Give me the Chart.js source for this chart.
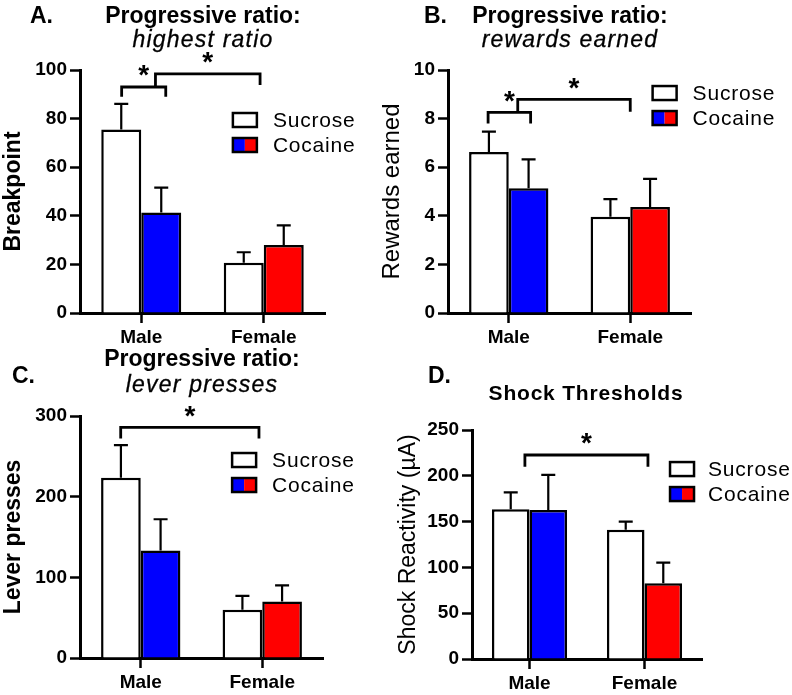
<!DOCTYPE html>
<html>
<head>
<meta charset="utf-8">
<script src="https://cdn.jsdelivr.net/npm/chart.js@4.4.1/dist/chart.umd.min.js"></script>
<style>
  body { margin: 0; background: #fff; }
  #page { position: relative; width: 792px; height: 695px; overflow: hidden; font-family: 'Liberation Sans', Arial, sans-serif; color: #000; }
  canvas { position: absolute; }
  .lbl { position: absolute; line-height: 1; white-space: nowrap; transform: translateY(-50%); }
  .ttl { position: absolute; line-height: 1; white-space: nowrap; transform: translate(-50%, -50%); }
  .b23 { font-size: 23px; font-weight: bold; }
  .i23 { font-size: 23px; font-style: italic; letter-spacing: 1.2px; -webkit-text-stroke: 0.3px #000; }
</style>
</head>
<body>
<div id="page">
  <canvas id="chartA" width="396" height="360" style="left:0;top:0"></canvas>
  <canvas id="chartB" width="416" height="360" style="left:376px;top:0"></canvas>
  <canvas id="chartC" width="396" height="355" style="left:0;top:340px"></canvas>
  <canvas id="chartD" width="416" height="355" style="left:376px;top:340px"></canvas>

  <div class="lbl b23" style="left:30px;top:15px">A.</div>
  <div class="ttl b23" style="left:203px;top:15px">Progressive ratio:</div>
  <div class="ttl i23" style="left:203px;top:39px">highest ratio</div>

  <div class="lbl b23" style="left:424px;top:15px">B.</div>
  <div class="ttl b23" style="left:570px;top:15px">Progressive ratio:</div>
  <div class="ttl i23" style="left:570px;top:39px">rewards earned</div>

  <div class="lbl b23" style="left:12px;top:375px">C.</div>
  <div class="ttl b23" style="left:202px;top:358px">Progressive ratio:</div>
  <div class="ttl i23" style="left:202px;top:384px">lever presses</div>

  <div class="lbl b23" style="left:428px;top:375px">D.</div>
  <div class="ttl" style="left:586px;top:392px;font-size:21px;font-weight:bold;letter-spacing:0.8px">Shock Thresholds</div>
</div>

<script>
// 資料
const groups = ['Male', 'Female'];
const seriesNames = ['Sucrose', 'Cocaine'];

// A. highest ratio (breakpoint)
const breakpointSucrose = [75.5, 20.7];
const breakpointSucroseSem = [10.6, 4.3];
const breakpointCocaine = [41.4, 28.0];
const breakpointCocaineSem = [10.2, 8.1];
const breakpointTicks = { max: 100, step: 20 };

// B. rewards earned
const rewardsSucrose = [6.63, 3.96];
const rewardsSucroseSem = [0.83, 0.73];
const rewardsCocaine = [5.13, 4.36];
const rewardsCocaineSem = [1.19, 1.16];
const rewardsTicks = { max: 10, step: 2 };

// C. lever presses
const pressesSucrose = [223.5, 59.8];
const pressesSucroseSem = [40.5, 17.2];
const pressesCocaine = [133.2, 70.0];
const pressesCocaineSem = [38.8, 20.0];
const pressesTicks = { max: 300, step: 100 };

// D. shock thresholds
const shockSucrose = [163.5, 141.0];
const shockSucroseSem = [18.5, 9.0];
const shockCocaine = [162.8, 82.8];
const shockCocaineSem = [38.2, 22.5];
const shockTicks = { max: 250, step: 50 };

// 顯著性括號 (x: 類別座標, y: 資料值)
const breakpointBrackets = [
    { from: -0.16, to: 0.20, top: 93.0, leftEnd: 89.0, rightEnd: 89.0 },
    { from: 0.116, to: 0.97, top: 98.4, leftEnd: 93.0, rightEnd: 93.8 }
];
const rewardsBrackets = [
    { from: -0.17, to: 0.18, top: 8.26, leftEnd: 7.80, rightEnd: 7.80 },
    { from: 0.074, to: 1.0, top: 8.79, leftEnd: 8.26, rightEnd: 8.28 }
];
const pressesBrackets = [
    { from: -0.165, to: 0.973, top: 286, leftEnd: 272, rightEnd: 272 }
];
const shockBrackets = [
    { from: -0.04, to: 1.03, top: 222.7, leftEnd: 210, rightEnd: 210 }
];

const FONT = "'Liberation Sans', Arial, sans-serif";
const BLUE = '#0000ff';
const RED = '#ff0000';

// 誤差線、括號、圖例
const extrasPlugin = {
    id: 'extras',
    afterDatasetsDraw(chart, args, opts) {
        const ctx = chart.ctx;
        const xs = chart.scales.x;
        const ys = chart.scales.y;
        ctx.save();
        ctx.strokeStyle = '#000';
        ctx.fillStyle = '#000';

        // 誤差線 (只畫上方)
        ctx.lineWidth = 2.2;
        chart.data.datasets.forEach((ds, i) => {
            const meta = chart.getDatasetMeta(i);
            meta.data.forEach((bar, j) => {
                const top = ys.getPixelForValue(ds.data[j] + ds.sem[j]);
                ctx.beginPath();
                ctx.moveTo(bar.x, bar.y);
                ctx.lineTo(bar.x, top);
                ctx.moveTo(bar.x - 7, top);
                ctx.lineTo(bar.x + 7, top);
                ctx.stroke();
            });
        });

        // 括號與星號
        ctx.lineWidth = 2.8;
        (opts.brackets || []).forEach(b => {
            const x1 = xs.getPixelForValue(b.from);
            const x2 = xs.getPixelForValue(b.to);
            const yt = ys.getPixelForValue(b.top);
            ctx.beginPath();
            ctx.moveTo(x1, ys.getPixelForValue(b.leftEnd));
            ctx.lineTo(x1, yt);
            ctx.lineTo(x2, yt);
            ctx.lineTo(x2, ys.getPixelForValue(b.rightEnd));
            ctx.stroke();
            ctx.font = 'bold 28px ' + FONT;
            ctx.textAlign = 'center';
            ctx.textBaseline = 'alphabetic';
            const starCenter = yt - 19;
            ctx.fillText('*', (x1 + x2) / 2, starCenter + 0.58 * 28);
        });

        // 圖例
        const L = opts.legend;
        const area = chart.chartArea;
        const lx = area.left + L.left * (area.right - area.left);
        let ly = area.top + L.top * (area.bottom - area.top);
        const bw = 24, bh = 14;
        chart.data.datasets.forEach(ds => {
            const colors = [].concat(ds.backgroundColor);
            const n = colors.length;
            colors.forEach((c, k) => {
                ctx.fillStyle = c;
                ctx.fillRect(lx + k * bw / n, ly, bw / n, bh);
            });
            ctx.lineWidth = 2.5;
            ctx.strokeRect(lx, ly, bw, bh);
            ctx.fillStyle = '#000';
            ctx.font = '21px ' + FONT;
            ctx.textAlign = 'left';
            ctx.textBaseline = 'middle';
            ctx.letterSpacing = '0.8px';
            ctx.fillText(ds.label, lx + L.gap, ly + bh / 2 + 1);
            ctx.letterSpacing = '0px';
            ly += 25;
        });
        ctx.restore();
    }
};

function makePanel(id, p) {
    const canvas = document.getElementById(id);
    return new Chart(canvas, {
        type: 'bar',
        data: {
            labels: groups,
            datasets: [
                {
                    label: seriesNames[0],
                    data: p.sucrose,
                    sem: p.sucroseSem,
                    backgroundColor: '#ffffff'
                },
                {
                    label: seriesNames[1],
                    data: p.cocaine,
                    sem: p.cocaineSem,
                    backgroundColor: [BLUE, RED]
                }
            ]
        },
        options: {
            responsive: false,
            animation: false,
            datasets: {
                bar: {
                    barPercentage: 1,
                    categoryPercentage: 0.653,
                    borderColor: '#000',
                    borderWidth: 2.5,
                    borderSkipped: 'start'
                }
            },
            layout: { padding: p.padding },
            plugins: {
                legend: { display: false },
                tooltip: { enabled: false },
                extras: { brackets: p.brackets, legend: p.legend }
            },
            scales: {
                x: {
                    offset: true,
                    grid: { offset: false, drawOnChartArea: false, tickLength: 10, tickColor: '#000', tickWidth: 2.5 },
                    border: { color: '#000', width: 3 },
                    ticks: { color: '#000', padding: 3, font: { family: FONT, size: 19, weight: 'bold' } },
                    afterFit: s => { s.height = p.xHeight; }
                },
                y: {
                    min: 0,
                    max: p.ticks.max,
                    ticks: { stepSize: p.ticks.step, color: '#000', padding: 3, font: { family: FONT, size: 19, weight: 'bold' } },
                    grid: { drawOnChartArea: false, tickLength: 10, tickColor: '#000', tickWidth: 2.5 },
                    border: { color: '#000', width: 3 },
                    title: {
                        display: true,
                        text: p.yTitle,
                        color: '#000',
                        padding: { top: p.titlePad, bottom: 0 },
                        font: { family: FONT, size: p.yTitleSize, weight: p.yTitleWeight }
                    },
                    afterFit: s => { s.width = p.yWidth; }
                }
            }
        },
        plugins: [extrasPlugin]
    });
}

makePanel('chartA', {
    sucrose: breakpointSucrose, sucroseSem: breakpointSucroseSem,
    cocaine: breakpointCocaine, cocaineSem: breakpointCocaineSem,
    ticks: breakpointTicks, brackets: breakpointBrackets,
    yTitle: 'Breakpoint', yTitleSize: 23, yTitleWeight: 'bold', titlePad: 0,
    padding: { top: 70, right: 71, left: 0, bottom: 0 },
    yWidth: 80, xHeight: 47,
    legend: { left: 0.624, top: 0.177, gap: 40 }
});

makePanel('chartB', {
    sucrose: rewardsSucrose, sucroseSem: rewardsSucroseSem,
    cocaine: rewardsCocaine, cocaineSem: rewardsCocaineSem,
    ticks: rewardsTicks, brackets: rewardsBrackets,
    yTitle: 'Rewards earned', yTitleSize: 24, yTitleWeight: 'normal', titlePad: 2,
    padding: { top: 70, right: 101, left: 0, bottom: 0 },
    yWidth: 72, xHeight: 47,
    legend: { left: 0.842, top: 0.066, gap: 40 }
});

makePanel('chartC', {
    sucrose: pressesSucrose, sucroseSem: pressesSucroseSem,
    cocaine: pressesCocaine, cocaineSem: pressesCocaineSem,
    ticks: pressesTicks, brackets: pressesBrackets,
    yTitle: 'Lever presses', yTitleSize: 23, yTitleWeight: 'bold', titlePad: 0,
    padding: { top: 76, right: 73, left: 0, bottom: 0 },
    yWidth: 80, xHeight: 37,
    legend: { left: 0.626, top: 0.153, gap: 40 }
});

makePanel('chartD', {
    sucrose: shockSucrose, sucroseSem: shockSucroseSem,
    cocaine: shockCocaine, cocaineSem: shockCocaineSem,
    ticks: shockTicks, brackets: shockBrackets,
    yTitle: 'Shock Reactivity (µA)', yTitleSize: 23, yTitleWeight: 'normal', titlePad: 19,
    padding: { top: 90, right: 90, left: 0, bottom: 0 },
    yWidth: 96, xHeight: 36,
    legend: { left: 0.861, top: 0.14, gap: 38 }
});
</script>
</body>
</html>
